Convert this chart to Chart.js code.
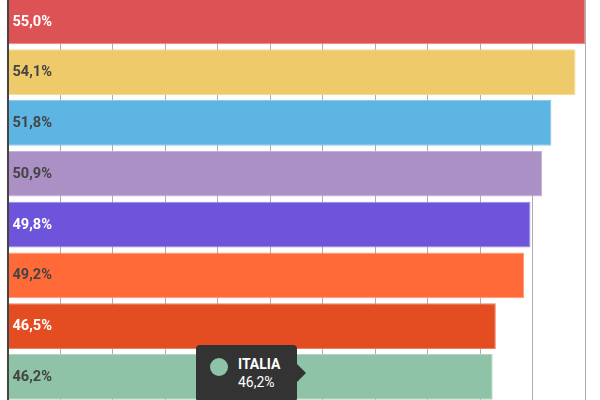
<!DOCTYPE html>
<html>
<head>
<meta charset="utf-8">
<script src="https://cdn.jsdelivr.net/npm/chart.js@4.4.1/dist/chart.umd.min.js"></script>
<style>
  html, body { margin: 0; padding: 0; background: #fff; width: 600px; height: 400px; overflow: hidden; }
  #wrap { position: absolute; left: 0; top: -5px; width: 600px; height: 410px; }
  #tip {
    position: absolute; display: none; box-sizing: border-box;
    background: #333333; color: #fff; border-radius: 4px;
    font-family: Roboto, "Noto Sans", sans-serif; font-size: 14px; line-height: 17.5px;
    padding: 11px 17px 11px 42px; white-space: nowrap; pointer-events: none;
  }
  #tip::after {
    content: ""; position: absolute; right: -9px; top: 50%; margin-top: -9.5px;
    border-left: 9px solid #333333; border-top: 9.5px solid transparent; border-bottom: 9.5px solid transparent;
  }
  #tip .dot { position: absolute; left: 14px; top: 13px; width: 18px; height: 18px; border-radius: 50%; }
  #tip .t { font-weight: bold; }
</style>
</head>
<body>
<div id="wrap"><canvas id="c"></canvas></div>
<div id="tip"><span class="dot"></span><div class="t"></div><div class="v"></div></div>
<script>
// ---- data ----
const categories = ["Paese 1", "Paese 2", "Paese 3", "Paese 4", "Paese 5", "Paese 6", "Paese 7", "ITALIA"];
const values = [55.0, 54.1, 51.8, 50.9, 49.8, 49.2, 46.5, 46.2];
const axisMin = 0;
const axisMax = 55;
const axisStep = 5;
const hoveredIndex = 7;

// ---- styles ----
const barColors = ["#DC5255", "#EFCA6A", "#5DB5E3", "#AB90C6", "#6E54DA", "#FF6A38", "#E44D22", "#8FC3A7"];
const labelColors = ["#ffffff", "#444444", "#444444", "#444444", "#ffffff", "#444444", "#ffffff", "#444444"];

function lighten(hex, t) {
  const n = parseInt(hex.slice(1), 16);
  const r = (n >> 16) & 255, g = (n >> 8) & 255, b = n & 255;
  const m = c => Math.round(c + (255 - c) * t);
  return `rgb(${m(r)},${m(g)},${m(b)})`;
}
const borderColors = barColors.map(c => lighten(c, 0.3));
const fmt = v => v.toFixed(1).replace('.', ',') + '%';

const valueLabels = {
  id: 'valueLabels',
  afterDatasetsDraw(chart) {
    const ctx = chart.ctx;
    const meta = chart.getDatasetMeta(0);
    ctx.save();
    ctx.font = 'bold 14.6px Roboto, "Noto Sans", sans-serif';
    ctx.textAlign = 'left';
    ctx.textBaseline = 'middle';
    meta.data.forEach((bar, i) => {
      ctx.fillStyle = labelColors[i];
      ctx.fillText(fmt(values[i]), bar.base + 4, bar.y + 0.5);
    });
    ctx.restore();
  }
};

Chart.Tooltip.positioners.pointer = function (items, eventPosition) {
  return eventPosition ? { x: eventPosition.x, y: eventPosition.y } : false;
};

function externalTip(context) {
  const { chart, tooltip } = context;
  const el = document.getElementById('tip');
  if (tooltip.opacity === 0 || !tooltip.dataPoints || !tooltip.dataPoints.length) {
    el.style.display = 'none';
    return;
  }
  const dp = tooltip.dataPoints[0];
  el.querySelector('.t').textContent = categories[dp.dataIndex];
  el.querySelector('.v').textContent = fmt(values[dp.dataIndex]);
  el.querySelector('.dot').style.background = barColors[dp.dataIndex];
  el.style.display = 'block';
  const rect = chart.canvas.getBoundingClientRect();
  const w = el.offsetWidth, h = el.offsetHeight;
  el.style.left = (rect.left + tooltip.caretX - 9 - w) + 'px';
  el.style.top = (rect.top + tooltip.caretY - h / 2) + 'px';
}

const chart = new Chart(document.getElementById('c'), {
  type: 'bar',
  data: {
    labels: categories,
    datasets: [{
      data: values,
      backgroundColor: barColors,
      borderColor: borderColors,
      borderWidth: 1,
      barPercentage: 0.9,
      categoryPercentage: 1
    }]
  },
  options: {
    indexAxis: 'y',
    responsive: true,
    maintainAspectRatio: false,
    animation: false,
    events: [],
    layout: { padding: { left: 8, right: 15, top: 1, bottom: 2.7 } },
    scales: {
      x: {
        min: axisMin, max: axisMax,
        ticks: { display: false, stepSize: axisStep },
        grid: { color: '#adadad', lineWidth: 1, drawTicks: false },
        border: { display: false },
        afterFit(s) { s.height = 0; }
      },
      y: {
        ticks: { display: false },
        grid: { display: false, drawTicks: false },
        border: { display: true, color: '#444444', width: 2, z: 1 },
        afterFit(s) { s.width = 0; }
      }
    },
    plugins: {
      legend: { display: false },
      tooltip: { enabled: false, external: externalTip, position: 'pointer', mode: 'nearest', intersect: false }
    }
  },
  plugins: [valueLabels]
});

chart.tooltip.setActiveElements([{ datasetIndex: 0, index: hoveredIndex }], { x: 306, y: 378.5 });
chart.update();
</script>
</body>
</html>
